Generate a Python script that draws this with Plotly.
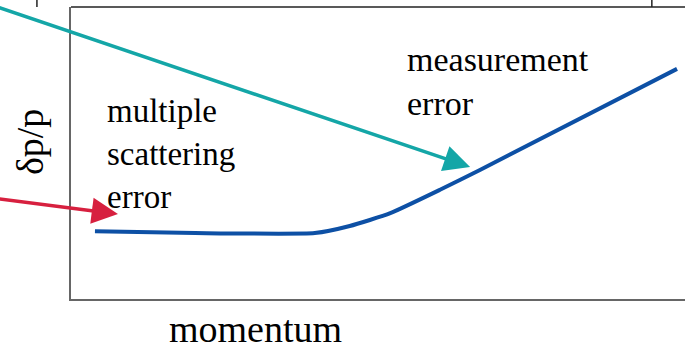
import plotly.graph_objects as go

# sketch: momentum resolution vs momentum (arbitrary units)
momentum = [0.39, 2.02, 3.97, 4.54, 5.20, 6.01, 6.66, 9.87]
resolution = [1.16, 1.13, 1.13, 1.25, 1.47, 1.87, 2.21, 3.94]

label_scatter = "multiple<br>scattering<br>error"
label_meas = "measurement<br>error"
x_title = "momentum"
y_title = "δp/p"

FONT = "Liberation Serif"
BLUE = "#0d50a5"
TEAL = "#14a6a7"
RED = "#d7203f"

fig = go.Figure()
fig.add_trace(go.Scatter(x=momentum, y=resolution, mode="lines",
                         line=dict(color=BLUE, width=4, shape="spline", smoothing=0.5),
                         hoverinfo="skip", showlegend=False))

# arrows coming in from outside the frame
fig.add_annotation(x=6.50, y=2.26, ax=-1.48, ay=5.10, xref="x", yref="y", axref="x", ayref="y",
                   text="", showarrow=True, arrowhead=2, arrowwidth=3.5, arrowsize=1.5,
                   arrowcolor=TEAL, standoff=0)
fig.add_annotation(x=0.765, y=1.455, ax=-1.48, ay=1.755, xref="x", yref="y", axref="x", ayref="y",
                   text="", showarrow=True, arrowhead=2, arrowwidth=3.5, arrowsize=1.5,
                   arrowcolor=RED, standoff=0)

# text labels
fig.add_annotation(x=0.55, y=2.476, xref="x", yref="y", text=label_scatter, showarrow=False,
                   xanchor="left", yanchor="middle", align="left",
                   font=dict(family=FONT, size=33, color="black"))
fig.add_annotation(x=5.44, y=3.716, xref="x", yref="y", text=label_meas, showarrow=False,
                   xanchor="left", yanchor="middle", align="left",
                   font=dict(family=FONT, size=34, color="black"))
fig.add_annotation(x=0.301, y=-0.103, xref="paper", yref="paper", text=x_title, showarrow=False,
                   xanchor="center", yanchor="middle",
                   font=dict(family=FONT, size=38, color="black"))
fig.add_annotation(x=-0.0676, y=0.539, xref="paper", yref="paper", text=y_title, showarrow=False,
                   textangle=-90, xanchor="center", yanchor="middle",
                   font=dict(family=FONT, size=38, color="black"))

# top edge of the frame and the little cut-off bits above it
fig.add_shape(type="line", xref="paper", yref="paper", x0=0, x1=1, y0=1, y1=1,
              line=dict(color="#222", width=1.5))
for xp in [-0.0555, 0.946]:
    fig.add_shape(type="line", xref="paper", yref="paper", x0=xp, x1=xp, y0=1, y1=1.03,
                  line=dict(color="#222", width=1.5))

fig.update_xaxes(range=[0, 10], showgrid=False, zeroline=False, showticklabels=False,
                 ticks="", showline=True, linecolor="#666", linewidth=1.5)
fig.update_yaxes(range=[0, 5], showgrid=False, zeroline=False, showticklabels=False,
                 ticks="", showline=True, linecolor="#666", linewidth=1.5)
fig.update_layout(width=685, height=350, margin=dict(l=71, r=0, t=7, b=51),
                  plot_bgcolor="white", paper_bgcolor="white")

# page body has a default 8px margin; drop it so the figure sits at the window corner
fig.write_html("out.html", config={"displayModeBar": False},
               post_script="document.body.style.margin='0';")
